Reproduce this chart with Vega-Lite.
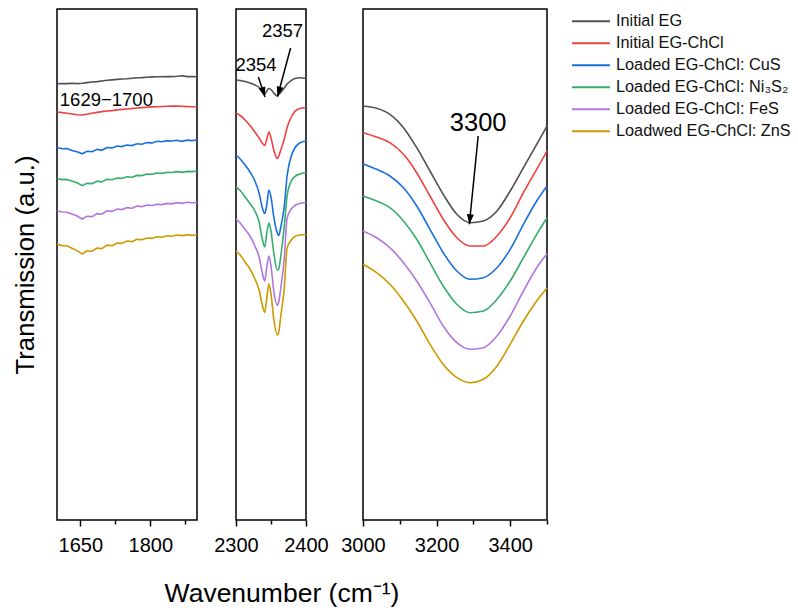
{
"$schema": "https://vega.github.io/schema/vega-lite/v6.json",
"padding": {"left": 11, "top": 8, "right": 0, "bottom": 2},
"background": "white",
"spacing": 39,
"bounds": "flush",
"datasets": {
"names": [{"k":"A","s":"Initial EG"},{"k":"B","s":"Initial EG-ChCl"},{"k":"C","s":"Loaded EG-ChCl: CuS"},{"k":"D","s":"Loaded EG-ChCl: Ni₃S₂"},{"k":"E","s":"Loaded EG-ChCl: FeS"},{"k":"F","s":"Loadwed EG-ChCl: ZnS"}],
"d1": [
{"k":"A","x":1600,"y":436.3},{"k":"A","x":1611,"y":436.5},{"k":"A","x":1621,"y":436.4},{"k":"A","x":1632,"y":436.7},{"k":"A","x":1643,"y":436.4},{"k":"A","x":1654,"y":436.8},{"k":"A","x":1664,"y":437.4},{"k":"A","x":1675,"y":438.0},{"k":"A","x":1686,"y":438.4},{"k":"A","x":1696,"y":439.0},{"k":"A","x":1707,"y":439.7},{"k":"A","x":1718,"y":440.1},{"k":"A","x":1729,"y":440.6},{"k":"A","x":1739,"y":441.0},{"k":"A","x":1750,"y":441.2},{"k":"A","x":1761,"y":441.8},{"k":"A","x":1771,"y":442.2},{"k":"A","x":1782,"y":442.4},{"k":"A","x":1793,"y":442.8},{"k":"A","x":1804,"y":443.1},{"k":"A","x":1814,"y":443.3},{"k":"A","x":1825,"y":443.2},{"k":"A","x":1836,"y":443.5},{"k":"A","x":1846,"y":443.4},{"k":"A","x":1857,"y":443.7},{"k":"A","x":1868,"y":444.2},{"k":"A","x":1879,"y":443.4},{"k":"A","x":1889,"y":443.5},{"k":"A","x":1900,"y":443.3},
{"k":"B","x":1600,"y":408.0},{"k":"B","x":1611,"y":407.4},{"k":"B","x":1621,"y":406.7},{"k":"B","x":1632,"y":406.0},{"k":"B","x":1643,"y":405.2},{"k":"B","x":1654,"y":405.0},{"k":"B","x":1664,"y":405.8},{"k":"B","x":1675,"y":406.7},{"k":"B","x":1686,"y":407.6},{"k":"B","x":1696,"y":408.4},{"k":"B","x":1707,"y":409.0},{"k":"B","x":1718,"y":409.4},{"k":"B","x":1729,"y":410.1},{"k":"B","x":1739,"y":410.6},{"k":"B","x":1750,"y":411.0},{"k":"B","x":1761,"y":411.5},{"k":"B","x":1771,"y":412.0},{"k":"B","x":1782,"y":412.4},{"k":"B","x":1793,"y":412.7},{"k":"B","x":1804,"y":413.1},{"k":"B","x":1814,"y":413.3},{"k":"B","x":1825,"y":413.5},{"k":"B","x":1836,"y":413.7},{"k":"B","x":1846,"y":413.9},{"k":"B","x":1857,"y":414.0},{"k":"B","x":1868,"y":413.7},{"k":"B","x":1879,"y":413.4},{"k":"B","x":1889,"y":413.2},{"k":"B","x":1900,"y":413.0},
{"k":"C","x":1600,"y":372.5},{"k":"C","x":1611,"y":371.2},{"k":"C","x":1621,"y":371.4},{"k":"C","x":1632,"y":369.5},{"k":"C","x":1643,"y":368.2},{"k":"C","x":1654,"y":366.2},{"k":"C","x":1664,"y":368.8},{"k":"C","x":1675,"y":368.2},{"k":"C","x":1686,"y":370.6},{"k":"C","x":1696,"y":369.7},{"k":"C","x":1707,"y":372.5},{"k":"C","x":1718,"y":372.1},{"k":"C","x":1729,"y":374.0},{"k":"C","x":1739,"y":373.4},{"k":"C","x":1750,"y":375.0},{"k":"C","x":1761,"y":374.4},{"k":"C","x":1771,"y":376.2},{"k":"C","x":1782,"y":375.8},{"k":"C","x":1793,"y":377.4},{"k":"C","x":1804,"y":377.1},{"k":"C","x":1814,"y":378.7},{"k":"C","x":1825,"y":378.2},{"k":"C","x":1836,"y":379.4},{"k":"C","x":1846,"y":379.0},{"k":"C","x":1857,"y":379.8},{"k":"C","x":1868,"y":378.6},{"k":"C","x":1879,"y":379.9},{"k":"C","x":1889,"y":379.4},{"k":"C","x":1900,"y":380.0},
{"k":"D","x":1600,"y":341.5},{"k":"D","x":1611,"y":340.4},{"k":"D","x":1621,"y":340.6},{"k":"D","x":1632,"y":339.0},{"k":"D","x":1643,"y":337.2},{"k":"D","x":1654,"y":334.4},{"k":"D","x":1664,"y":336.6},{"k":"D","x":1675,"y":336.4},{"k":"D","x":1686,"y":338.8},{"k":"D","x":1696,"y":338.1},{"k":"D","x":1707,"y":340.6},{"k":"D","x":1718,"y":340.2},{"k":"D","x":1729,"y":342.0},{"k":"D","x":1739,"y":341.6},{"k":"D","x":1750,"y":343.2},{"k":"D","x":1761,"y":342.8},{"k":"D","x":1771,"y":344.6},{"k":"D","x":1782,"y":344.4},{"k":"D","x":1793,"y":346.0},{"k":"D","x":1804,"y":345.7},{"k":"D","x":1814,"y":347.0},{"k":"D","x":1825,"y":346.6},{"k":"D","x":1836,"y":347.8},{"k":"D","x":1846,"y":347.5},{"k":"D","x":1857,"y":348.4},{"k":"D","x":1868,"y":347.6},{"k":"D","x":1879,"y":348.6},{"k":"D","x":1889,"y":348.4},{"k":"D","x":1900,"y":349.0},
{"k":"E","x":1600,"y":309.2},{"k":"E","x":1611,"y":308.0},{"k":"E","x":1621,"y":307.8},{"k":"E","x":1632,"y":306.0},{"k":"E","x":1643,"y":304.0},{"k":"E","x":1654,"y":301.0},{"k":"E","x":1664,"y":303.8},{"k":"E","x":1675,"y":303.4},{"k":"E","x":1686,"y":306.4},{"k":"E","x":1696,"y":305.8},{"k":"E","x":1707,"y":309.2},{"k":"E","x":1718,"y":308.6},{"k":"E","x":1729,"y":311.0},{"k":"E","x":1739,"y":310.4},{"k":"E","x":1750,"y":312.4},{"k":"E","x":1761,"y":311.8},{"k":"E","x":1771,"y":314.0},{"k":"E","x":1782,"y":313.4},{"k":"E","x":1793,"y":315.0},{"k":"E","x":1804,"y":314.5},{"k":"E","x":1814,"y":315.8},{"k":"E","x":1825,"y":315.4},{"k":"E","x":1836,"y":316.6},{"k":"E","x":1846,"y":316.1},{"k":"E","x":1857,"y":317.4},{"k":"E","x":1868,"y":316.6},{"k":"E","x":1879,"y":317.8},{"k":"E","x":1889,"y":317.2},{"k":"E","x":1900,"y":317.4},
{"k":"F","x":1600,"y":275.8},{"k":"F","x":1611,"y":274.4},{"k":"F","x":1621,"y":274.2},{"k":"F","x":1632,"y":271.8},{"k":"F","x":1643,"y":269.4},{"k":"F","x":1654,"y":266.0},{"k":"F","x":1664,"y":269.2},{"k":"F","x":1675,"y":268.8},{"k":"F","x":1686,"y":272.0},{"k":"F","x":1696,"y":271.4},{"k":"F","x":1707,"y":274.8},{"k":"F","x":1718,"y":274.2},{"k":"F","x":1729,"y":277.0},{"k":"F","x":1739,"y":276.6},{"k":"F","x":1750,"y":279.0},{"k":"F","x":1761,"y":278.4},{"k":"F","x":1771,"y":280.6},{"k":"F","x":1782,"y":280.2},{"k":"F","x":1793,"y":282.0},{"k":"F","x":1804,"y":281.6},{"k":"F","x":1814,"y":283.2},{"k":"F","x":1825,"y":282.8},{"k":"F","x":1836,"y":284.2},{"k":"F","x":1846,"y":283.8},{"k":"F","x":1857,"y":285.0},{"k":"F","x":1868,"y":284.4},{"k":"F","x":1879,"y":285.2},{"k":"F","x":1889,"y":284.6},{"k":"F","x":1900,"y":285.0}
],
"d2": [
{"k":"A","x":2300,"y":440},{"k":"A","x":2306,"y":439.5},{"k":"A","x":2313,"y":438.5},{"k":"A","x":2320,"y":437},{"k":"A","x":2327,"y":435},{"k":"A","x":2333,"y":432.5},{"k":"A","x":2337,"y":429.5},{"k":"A","x":2341,"y":425.5},{"k":"A","x":2344,"y":429},{"k":"A","x":2347,"y":431.5},{"k":"A","x":2350,"y":430.5},{"k":"A","x":2354,"y":427},{"k":"A","x":2359,"y":424},{"k":"A","x":2361,"y":425.5},{"k":"A","x":2364,"y":427.5},{"k":"A","x":2369,"y":432},{"k":"A","x":2373,"y":436},{"k":"A","x":2379,"y":439.5},{"k":"A","x":2384,"y":441.5},{"k":"A","x":2391,"y":442.2},{"k":"A","x":2400,"y":441.7},
{"k":"B","x":2300,"y":407},{"k":"B","x":2306,"y":404.5},{"k":"B","x":2313,"y":400},{"k":"B","x":2320,"y":394.5},{"k":"B","x":2327,"y":388},{"k":"B","x":2333,"y":382},{"k":"B","x":2337,"y":377.5},{"k":"B","x":2341,"y":374.5},{"k":"B","x":2344,"y":381},{"k":"B","x":2347,"y":388},{"k":"B","x":2350,"y":382},{"k":"B","x":2354,"y":370},{"k":"B","x":2359,"y":361.5},{"k":"B","x":2361,"y":364},{"k":"B","x":2364,"y":370},{"k":"B","x":2369,"y":381},{"k":"B","x":2373,"y":392.5},{"k":"B","x":2379,"y":403},{"k":"B","x":2384,"y":408.5},{"k":"B","x":2391,"y":411.5},{"k":"B","x":2400,"y":412.5},
{"k":"C","x":2300,"y":365},{"k":"C","x":2306,"y":361},{"k":"C","x":2313,"y":355},{"k":"C","x":2320,"y":348},{"k":"C","x":2327,"y":339},{"k":"C","x":2333,"y":327},{"k":"C","x":2337,"y":314},{"k":"C","x":2341,"y":306.5},{"k":"C","x":2344,"y":315},{"k":"C","x":2347,"y":330},{"k":"C","x":2350,"y":323},{"k":"C","x":2354,"y":303},{"k":"C","x":2359,"y":287},{"k":"C","x":2361,"y":284.5},{"k":"C","x":2364,"y":293},{"k":"C","x":2369,"y":314},{"k":"C","x":2373,"y":344},{"k":"C","x":2379,"y":364},{"k":"C","x":2384,"y":372},{"k":"C","x":2391,"y":377},{"k":"C","x":2400,"y":379},
{"k":"D","x":2300,"y":333},{"k":"D","x":2306,"y":329.5},{"k":"D","x":2313,"y":323},{"k":"D","x":2320,"y":316.5},{"k":"D","x":2327,"y":309},{"k":"D","x":2333,"y":298},{"k":"D","x":2337,"y":283},{"k":"D","x":2341,"y":273},{"k":"D","x":2344,"y":287},{"k":"D","x":2347,"y":297},{"k":"D","x":2350,"y":289},{"k":"D","x":2354,"y":267},{"k":"D","x":2359,"y":250},{"k":"D","x":2361,"y":251},{"k":"D","x":2364,"y":264},{"k":"D","x":2369,"y":294},{"k":"D","x":2373,"y":324},{"k":"D","x":2379,"y":339},{"k":"D","x":2384,"y":343.5},{"k":"D","x":2391,"y":346},{"k":"D","x":2400,"y":347.5},
{"k":"E","x":2300,"y":301},{"k":"E","x":2306,"y":297},{"k":"E","x":2313,"y":290.5},{"k":"E","x":2320,"y":284},{"k":"E","x":2327,"y":274},{"k":"E","x":2333,"y":263},{"k":"E","x":2337,"y":249},{"k":"E","x":2341,"y":239},{"k":"E","x":2344,"y":253},{"k":"E","x":2347,"y":264},{"k":"E","x":2350,"y":254},{"k":"E","x":2354,"y":229},{"k":"E","x":2359,"y":214.5},{"k":"E","x":2361,"y":218},{"k":"E","x":2364,"y":232},{"k":"E","x":2369,"y":262},{"k":"E","x":2373,"y":302},{"k":"E","x":2379,"y":311},{"k":"E","x":2384,"y":314.5},{"k":"E","x":2391,"y":316.5},{"k":"E","x":2400,"y":317.5},
{"k":"F","x":2300,"y":269},{"k":"F","x":2306,"y":265},{"k":"F","x":2313,"y":258},{"k":"F","x":2320,"y":251},{"k":"F","x":2327,"y":241},{"k":"F","x":2333,"y":230},{"k":"F","x":2337,"y":217},{"k":"F","x":2341,"y":207.5},{"k":"F","x":2344,"y":222},{"k":"F","x":2347,"y":236},{"k":"F","x":2350,"y":226},{"k":"F","x":2354,"y":201},{"k":"F","x":2359,"y":185},{"k":"F","x":2361,"y":188},{"k":"F","x":2364,"y":204},{"k":"F","x":2369,"y":232},{"k":"F","x":2373,"y":272},{"k":"F","x":2379,"y":280},{"k":"F","x":2384,"y":283.5},{"k":"F","x":2391,"y":285},{"k":"F","x":2400,"y":285.5}
],
"d3": [
{"k":"A","x":3000,"y":414},{"k":"A","x":3037,"y":411.7},{"k":"A","x":3073,"y":405.7},{"k":"A","x":3110,"y":392.3},{"k":"A","x":3146,"y":372.3},{"k":"A","x":3182,"y":349},{"k":"A","x":3218,"y":325.7},{"k":"A","x":3255,"y":305.7},{"k":"A","x":3291,"y":297.3},{"k":"A","x":3327,"y":299},{"k":"A","x":3364,"y":309},{"k":"A","x":3400,"y":329},{"k":"A","x":3436,"y":352.3},{"k":"A","x":3472,"y":375.7},{"k":"A","x":3500,"y":394},
{"k":"B","x":3000,"y":387.3},{"k":"B","x":3037,"y":383},{"k":"B","x":3073,"y":377.3},{"k":"B","x":3110,"y":365.7},{"k":"B","x":3146,"y":347.3},{"k":"B","x":3182,"y":324},{"k":"B","x":3218,"y":300.7},{"k":"B","x":3255,"y":282.3},{"k":"B","x":3291,"y":274},{"k":"B","x":3327,"y":274},{"k":"B","x":3364,"y":284},{"k":"B","x":3400,"y":302.3},{"k":"B","x":3436,"y":327.3},{"k":"B","x":3472,"y":350.7},{"k":"B","x":3500,"y":369},
{"k":"C","x":3000,"y":356.3},{"k":"C","x":3037,"y":350.7},{"k":"C","x":3073,"y":344},{"k":"C","x":3110,"y":332.3},{"k":"C","x":3146,"y":314},{"k":"C","x":3182,"y":290.7},{"k":"C","x":3218,"y":267.3},{"k":"C","x":3255,"y":249},{"k":"C","x":3291,"y":240.7},{"k":"C","x":3327,"y":242.3},{"k":"C","x":3364,"y":252.3},{"k":"C","x":3400,"y":270.7},{"k":"C","x":3436,"y":295.7},{"k":"C","x":3472,"y":319},{"k":"C","x":3500,"y":334},
{"k":"D","x":3000,"y":324},{"k":"D","x":3037,"y":319},{"k":"D","x":3073,"y":312.3},{"k":"D","x":3110,"y":299},{"k":"D","x":3146,"y":280.7},{"k":"D","x":3182,"y":257.3},{"k":"D","x":3218,"y":234},{"k":"D","x":3255,"y":215.7},{"k":"D","x":3291,"y":207.3},{"k":"D","x":3327,"y":209},{"k":"D","x":3364,"y":220.7},{"k":"D","x":3400,"y":239},{"k":"D","x":3436,"y":262.3},{"k":"D","x":3472,"y":285.7},{"k":"D","x":3500,"y":302.3},
{"k":"E","x":3000,"y":289},{"k":"E","x":3037,"y":282.3},{"k":"E","x":3073,"y":272.3},{"k":"E","x":3110,"y":257.3},{"k":"E","x":3146,"y":239},{"k":"E","x":3182,"y":217.3},{"k":"E","x":3218,"y":194},{"k":"E","x":3255,"y":177.3},{"k":"E","x":3291,"y":170.7},{"k":"E","x":3327,"y":172.3},{"k":"E","x":3364,"y":184},{"k":"E","x":3400,"y":204},{"k":"E","x":3436,"y":229},{"k":"E","x":3472,"y":252.3},{"k":"E","x":3500,"y":266.3},
{"k":"F","x":3000,"y":255.7},{"k":"F","x":3037,"y":247.3},{"k":"F","x":3073,"y":235.7},{"k":"F","x":3110,"y":219},{"k":"F","x":3146,"y":199},{"k":"F","x":3182,"y":175.7},{"k":"F","x":3218,"y":155.7},{"k":"F","x":3255,"y":142.3},{"k":"F","x":3291,"y":137.3},{"k":"F","x":3327,"y":140.7},{"k":"F","x":3364,"y":154},{"k":"F","x":3400,"y":175.7},{"k":"F","x":3436,"y":199},{"k":"F","x":3472,"y":219},{"k":"F","x":3500,"y":232}
]
},
"hconcat": [
{
"width": 140, "height": 511,
"resolve": {"axis": {"x": "independent", "y": "independent"}},
"layer": [
{"data": {"name": "d1"},
 "transform": [{"lookup": "k", "from": {"data": {"name": "names"}, "key": "k", "fields": ["s"]}}],
 "mark": {"type": "line", "strokeWidth": 1.6},
 "encoding": {
  "x": {"field": "x", "type": "quantitative", "scale": {"domain": [1600, 1900], "nice": false, "zero": false},
        "axis": {"title": null, "orient": "bottom", "values": [1650, 1725, 1800, 1875], "format": "d", "labelExpr": "(datum.value == 1725 || datum.value == 1875) ? '' : datum.label", "tickSize": {"condition": {"test": "datum.value == 1725 || datum.value == 1875", "value": 4}, "value": 6}}},
  "y": {"field": "y", "type": "quantitative", "scale": {"domain": [0, 511], "nice": false, "zero": false},
        "axis": {"title": "Transmission (a.u.)", "orient": "left", "labels": false, "ticks": false, "domain": false, "titlePadding": 19, "titleFontSize": 25.7}},
  "color": {"field": "s", "type": "nominal", "scale": {"domain": ["Initial EG","Initial EG-ChCl","Loaded EG-ChCl: CuS","Loaded EG-ChCl: Ni₃S₂","Loaded EG-ChCl: FeS","Loadwed EG-ChCl: ZnS"], "range": ["#515151","#F14040","#1A6FDF","#37AD6B","#B177DE","#CC9900"]},
            "legend": {"title": null, "orient": "none", "legendX": 514, "legendY": 4}}
 }},
{"data": {"values": [{"x": 1606, "y": 414, "t": "1629−1700"}]},
 "mark": {"type": "text", "align": "left", "baseline": "alphabetic", "fontSize": 18.5, "color": "#000"},
 "encoding": {"x": {"field": "x", "type": "quantitative", "axis": null}, "y": {"field": "y", "type": "quantitative", "axis": null}, "text": {"field": "t"}}}
]
},
{
"spacing": 57, "bounds": "flush",
"hconcat": [
{
"width": 70, "height": 511,
"resolve": {"axis": {"x": "independent", "y": "independent"}},
"layer": [
{"data": {"name": "d2"},
 "transform": [{"lookup": "k", "from": {"data": {"name": "names"}, "key": "k", "fields": ["s"]}}],
 "mark": {"type": "line", "strokeWidth": 1.6, "interpolate": "monotone"},
 "encoding": {
  "x": {"field": "x", "type": "quantitative", "scale": {"domain": [2300, 2400], "nice": false, "zero": false},
        "axis": {"title": "Wavenumber (cm⁻¹)", "orient": "bottom", "titleX": 45.5, "titleY": 81, "titleBaseline": "alphabetic", "titleAlign": "center", "titleFontSize": 26.5, "values": [2300, 2350, 2400], "format": "d", "labelExpr": "datum.value == 2350 ? '' : datum.label", "tickSize": {"condition": {"test": "datum.value == 2350", "value": 4}, "value": 6}}},
  "y": {"field": "y", "type": "quantitative", "scale": {"domain": [0, 511], "nice": false, "zero": false}, "axis": null},
  "color": {"field": "s", "type": "nominal", "scale": {"domain": ["Initial EG","Initial EG-ChCl","Loaded EG-ChCl: CuS","Loaded EG-ChCl: Ni₃S₂","Loaded EG-ChCl: FeS","Loadwed EG-ChCl: ZnS"], "range": ["#515151","#F14040","#1A6FDF","#37AD6B","#B177DE","#CC9900"]},
            "legend": {"title": null, "orient": "none", "legendX": 514, "legendY": 4}}
 }},
{"data": {"values": [{"x": 2328.6, "y": 449, "t": "2354"}, {"x": 2366.4, "y": 483, "t": "2357"}]},
 "mark": {"type": "text", "align": "center", "baseline": "alphabetic", "fontSize": 18.5, "color": "#000"},
 "encoding": {"x": {"field": "x", "type": "quantitative", "axis": null}, "y": {"field": "y", "type": "quantitative", "axis": null}, "text": {"field": "t"}}},
{"data": {"values": [{"x": 2332, "y": 443, "x2": 2341.4, "y2": 423, "a": -18}, {"x": 2378, "y": 472, "x2": 2359.3, "y2": 423.5, "a": 15}]},
 "mark": {"type": "rule", "color": "#000", "strokeWidth": 1.5},
 "encoding": {"x": {"field": "x", "type": "quantitative", "axis": null}, "y": {"field": "y", "type": "quantitative", "axis": null}, "x2": {"field": "x2"}, "y2": {"field": "y2"}}},
{"data": {"values": [{"x": 2332, "y": 443, "x2": 2341.4, "y2": 423, "a": -18}, {"x": 2378, "y": 472, "x2": 2359.3, "y2": 423.5, "a": 15}]},
 "mark": {"type": "point", "shape": "M0,0L-0.35,-1L0.35,-1Z", "filled": true, "color": "#000", "opacity": 1, "size": 400, "strokeWidth": 0},
 "encoding": {"x": {"field": "x2", "type": "quantitative", "axis": null}, "y": {"field": "y2", "type": "quantitative", "axis": null}, "angle": {"field": "a", "type": "quantitative", "scale": null}}}
]
},
{
"width": 184, "height": 511,
"resolve": {"axis": {"x": "independent", "y": "independent"}},
"layer": [
{"data": {"name": "d3"},
 "transform": [{"lookup": "k", "from": {"data": {"name": "names"}, "key": "k", "fields": ["s"]}}],
 "mark": {"type": "line", "strokeWidth": 1.6, "interpolate": "monotone"},
 "encoding": {
  "x": {"field": "x", "type": "quantitative", "scale": {"domain": [3000, 3500], "nice": false, "zero": false},
        "axis": {"title": null, "orient": "bottom", "values": [3000, 3100, 3200, 3300, 3400, 3500], "format": "d", "labelExpr": "(datum.value == 3100 || datum.value == 3300 || datum.value == 3500) ? '' : datum.label", "tickSize": {"condition": {"test": "datum.value == 3100 || datum.value == 3300 || datum.value == 3500", "value": 4}, "value": 6}}},
  "y": {"field": "y", "type": "quantitative", "scale": {"domain": [0, 511], "nice": false, "zero": false}, "axis": null},
  "color": {"field": "s", "type": "nominal", "scale": {"domain": ["Initial EG","Initial EG-ChCl","Loaded EG-ChCl: CuS","Loaded EG-ChCl: Ni₃S₂","Loaded EG-ChCl: FeS","Loadwed EG-ChCl: ZnS"], "range": ["#515151","#F14040","#1A6FDF","#37AD6B","#B177DE","#CC9900"]},
            "legend": {"title": null, "orient": "none", "legendX": 514, "legendY": 4}}
 }},
{"data": {"values": [{"x": 3313, "y": 389, "t": "3300"}]},
 "mark": {"type": "text", "align": "center", "baseline": "alphabetic", "fontSize": 25.5, "color": "#000"},
 "encoding": {"x": {"field": "x", "type": "quantitative", "axis": null}, "y": {"field": "y", "type": "quantitative", "axis": null}, "text": {"field": "t"}}},
{"data": {"values": [{"x": 3313, "y": 384, "x2": 3289, "y2": 295.7, "a": 6}]},
 "mark": {"type": "rule", "color": "#000", "strokeWidth": 1.5},
 "encoding": {"x": {"field": "x", "type": "quantitative", "axis": null}, "y": {"field": "y", "type": "quantitative", "axis": null}, "x2": {"field": "x2"}, "y2": {"field": "y2"}}},
{"data": {"values": [{"x": 3313, "y": 384, "x2": 3289, "y2": 295.7, "a": 6}]},
 "mark": {"type": "point", "shape": "M0,0L-0.35,-1L0.35,-1Z", "filled": true, "color": "#000", "opacity": 1, "size": 400, "strokeWidth": 0},
 "encoding": {"x": {"field": "x2", "type": "quantitative", "axis": null}, "y": {"field": "y2", "type": "quantitative", "axis": null}, "angle": {"field": "a", "type": "quantitative", "scale": null}}}
]
}
]
}
],
"config": {
 "font": "Liberation Sans",
 "view": {"stroke": "#000", "strokeWidth": 1.5},
 "axis": {"grid": false, "domain": false, "tickColor": "#000", "tickWidth": 1.5, "labelFontSize": 20, "labelColor": "#000", "labelPadding": 9, "labelFlush": false, "labelOverlap": false, "labelBound": false, "titleFontWeight": "normal", "titleColor": "#000", "titleFontSize": 25.5},
 "legend": {"symbolType": "stroke", "symbolSize": 1444, "symbolStrokeWidth": 2, "labelFontSize": 16.3, "labelColor": "#111", "labelOffset": 5, "rowPadding": 5, "clipHeight": 16.5, "labelLimit": 0, "padding": 0}
}
}
